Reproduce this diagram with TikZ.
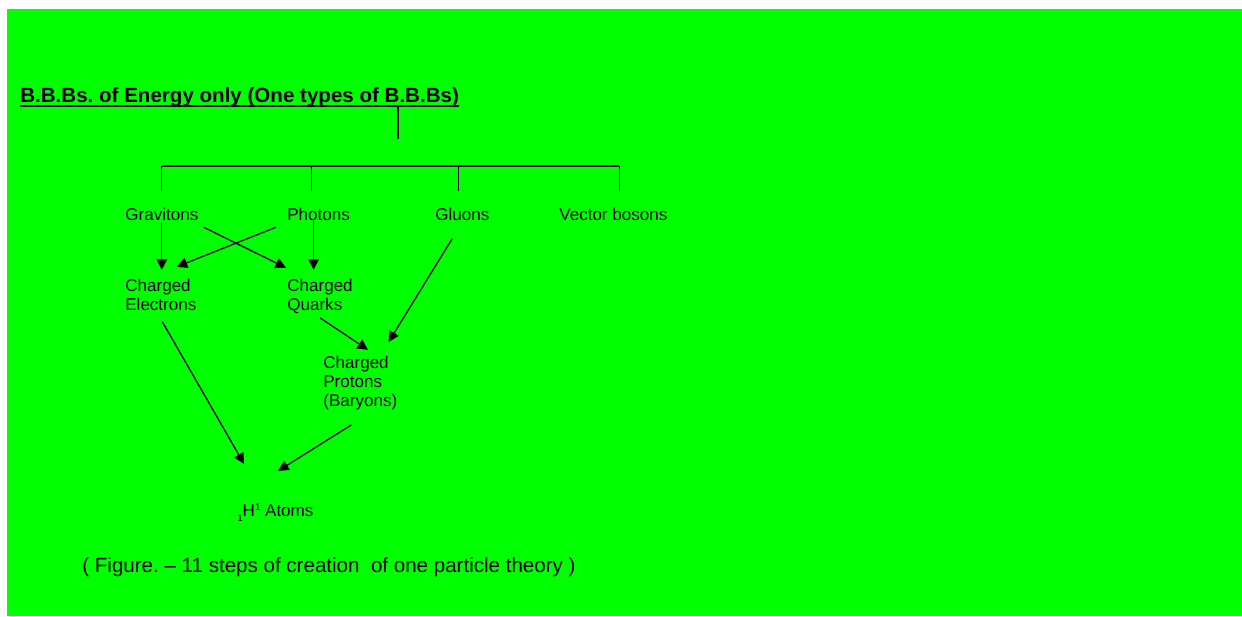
\documentclass[tikz,border=0pt]{standalone}
\usepackage{fontspec}
\setmainfont{Liberation Sans}
\usetikzlibrary{arrows.meta,calc}
\definecolor{bggreen}{RGB}{0,255,0}
\frenchspacing
\tikzset{
  lbl/.style={anchor=base west, inner sep=0pt, font=\fontsize{9.7}{10.7}\selectfont},
  lbls/.style={lbl, anchor=north west, align=left},
  big/.style={anchor=base west, inner sep=0pt, font=\fontsize{11.7}{13}\selectfont},
  arr/.style={-{Triangle[length=6pt,width=6pt]}, line width=0.75pt},
  tree/.style={line width=0.75pt}
}
\newcommand{\tinyone}{\fontsize{5.5}{6}\selectfont 1}

\begin{document}
\begin{tikzpicture}[x=0.02cm, y=-0.02cm]
\useasboundingbox (0,0) rectangle (1242,616);
\fill[bggreen] (7,9) rectangle (1242,616);

% heading
\node[big, font=\fontsize{11.7}{13}\selectfont\bfseries] (title) at (20,102) {B.B.Bs. of Energy only (One types of B.B.Bs)};
\draw[line width=0.85pt] ($(title.base west)+(0,4)$) -- ($(title.base east)+(0,4)$);
\coordinate (stem) at (398,139);
\draw[tree] (stem) -- ++(0,-33);

% first row
\node[lbl] (grav) at (125,220.7) {Gravitons};
\node[lbl] (phot) at (287,220.7) {Photons};
\node[lbl] (glu) at (435,220) {Gluons};
\node[lbl] (vec) at (559,220) {Vector bosons};

% bus
\coordinate (bus) at (0,166);
\draw[tree] (grav.north |- bus) -- ($(vec.north |- bus)+(6,0)$);
\foreach \n/\dx in {grav/0,phot/-7,glu/-4,vec/6}
  \draw[tree] ($(\n.north |- bus)+(\dx,0)$) -- ++(0,25);

% second row
\node[lbls] (elec) at (125,278.8) {Charged\\Electrons};
\node[lbls] (quark) at (287,278.8) {Charged\\Quarks};
\node[lbls] (prot) at (323,355.8) {Charged\\Protons\\(Baryons)};
\node[lbl] (atom) at (237,516) {\raisebox{-3.2pt}{\tinyone}H\raisebox{2.9pt}{\tinyone} Atoms};

% arrows
\draw[arr] ($(grav.south)+(0,2)$) -- ($(grav.south |- elec.north)+(0,-9)$);
\draw[arr] ($(phot.south)+(-5,0)$) -- ($(phot.south |- quark.north)+(-5,-9)$);
\draw[arr] ($(phot.south west)+(-11,6)$) -- ($(elec.north east)+(-20,-12)$);
\draw[arr] ($(grav.south east)+(5,6)$) -- ($(quark.north west)+(-1,-11)$);
\draw[arr] ($(glu.south)+(-10,18)$) -- ($(prot.north east)+(-9,-13.8)$);
\draw[arr] ($(quark.south)+(0,4)$) -- ($(prot.north west)+(45,-6)$);
\draw[arr] ($(elec.south)+(1.5,11)$) -- ($(atom.north west)+(7,-40)$);
\draw[arr] ($(prot.south)+(-9,15)$) -- ($(atom.north)+(2.7,-33)$);

\node[big] (caption) at (82,572) {( Figure. -- 11 steps of creation\ \ of one particle theory )};
\end{tikzpicture}
\end{document}
